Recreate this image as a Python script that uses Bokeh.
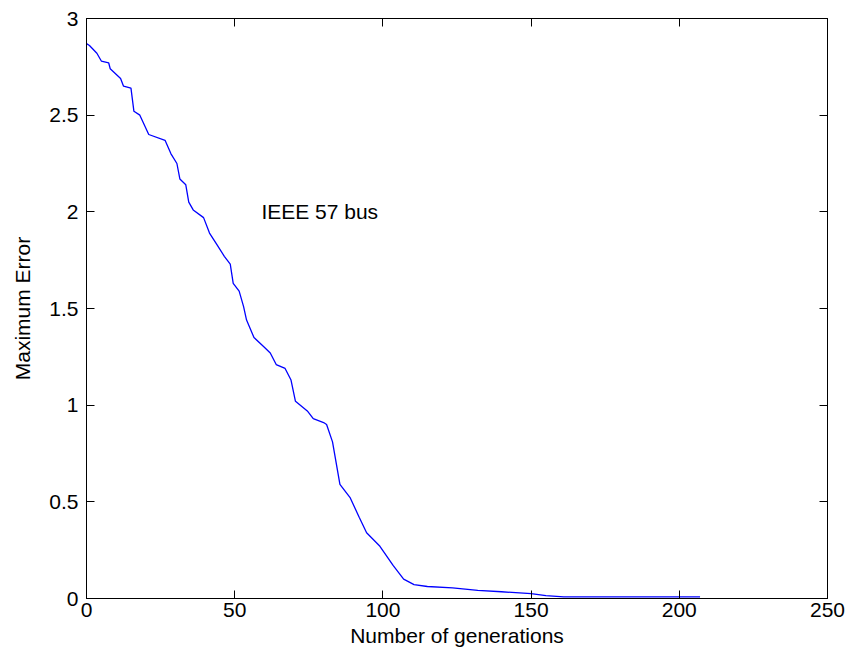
from bokeh.plotting import figure
from bokeh.models import Range1d, FixedTicker, LinearAxis, NumeralTickFormatter, Label
from bokeh.embed import file_html
from bokeh.resources import INLINE

# Data
generations = [0, 1, 3.5, 5, 7.5, 8, 11.5, 12.5, 15, 16, 18, 21, 26.5, 28.5, 30.5, 31.5,
               33.5, 34.5, 36, 39.5, 41.5, 44, 46.5, 48.5, 49.5, 51.5, 53, 54, 56.5, 60,
               62, 64, 67, 69, 70.5, 74.5, 76.5, 80, 81, 83, 85.5, 89, 92, 94.5, 99, 103.5,
               107, 110.5, 115, 123.5, 132, 140, 150, 155, 161, 207]
max_error = [2.87, 2.86, 2.82, 2.78, 2.77, 2.74, 2.69, 2.65, 2.64, 2.52, 2.50, 2.40, 2.37,
             2.30, 2.25, 2.17, 2.14, 2.05, 2.01, 1.97, 1.89, 1.83, 1.77, 1.73, 1.63, 1.59,
             1.51, 1.44, 1.35, 1.30, 1.27, 1.21, 1.19, 1.13, 1.02, 0.97, 0.93, 0.91, 0.90,
             0.81, 0.59, 0.52, 0.42, 0.34, 0.27, 0.17, 0.10, 0.072, 0.062, 0.055, 0.042,
             0.035, 0.025, 0.015, 0.008, 0.008]
x_ticks = [0, 50, 100, 150, 200, 250]
y_ticks = [0, 0.5, 1, 1.5, 2, 2.5, 3]
x_label = "Number of generations"
y_label = "Maximum Error"
annotation = "IEEE 57 bus"

FONT = "Liberation Sans"
FS = "21px"

p = figure(width=846, height=663, output_backend="svg", toolbar_location=None,
           x_range=Range1d(0, 250), y_range=Range1d(0, 3),
           min_border_left=86, min_border_right=19, min_border_top=18, min_border_bottom=65)
p.background_fill_color = "white"
p.border_fill_color = "white"
p.outline_line_color = "black"
p.outline_line_width = 1
p.grid.visible = False

p.line(generations, max_error, line_color="#0000ff", line_width=1.3)

for ax, ticks in ((p.xaxis[0], x_ticks), (p.yaxis[0], y_ticks)):
    ax.ticker = FixedTicker(ticks=ticks)
    ax.major_tick_in = 8
    ax.major_tick_out = 0
    ax.minor_tick_line_color = None
    ax.axis_line_color = "black"
    ax.major_tick_line_color = "black"
    ax.major_label_text_font = FONT
    ax.major_label_text_font_size = FS
    ax.major_label_text_color = "black"
    ax.axis_label_text_font = FONT
    ax.axis_label_text_font_size = FS
    ax.axis_label_text_font_style = "normal"
    ax.axis_label_text_color = "black"

p.xaxis[0].axis_label = x_label
p.yaxis[0].axis_label = y_label
p.yaxis[0].formatter = NumeralTickFormatter(format="0.[0]")
p.xaxis[0].major_label_standoff = 4
p.yaxis[0].major_label_standoff = 8
p.xaxis[0].axis_label_standoff = 4
p.yaxis[0].axis_label_standoff = 12

# box ticks on top and right (no labels)
top = LinearAxis(ticker=FixedTicker(ticks=x_ticks), major_tick_in=8, major_tick_out=0,
                 minor_tick_line_color=None, major_label_text_color=None,
                 major_label_text_font_size="1px",
                 axis_line_color="black", major_label_standoff=0)
right = LinearAxis(ticker=FixedTicker(ticks=y_ticks), major_tick_in=8, major_tick_out=0,
                   minor_tick_line_color=None, major_label_text_color=None,
                   major_label_text_font_size="1px",
                   axis_line_color="black", major_label_standoff=0)
p.add_layout(top, "above")
p.add_layout(right, "right")

p.add_layout(Label(x=59, y=2.0, text=annotation, text_font=FONT, text_font_size=FS,
                   text_color="black", text_baseline="middle", text_align="left"))

open("out.html", "w").write(file_html(p, INLINE))
